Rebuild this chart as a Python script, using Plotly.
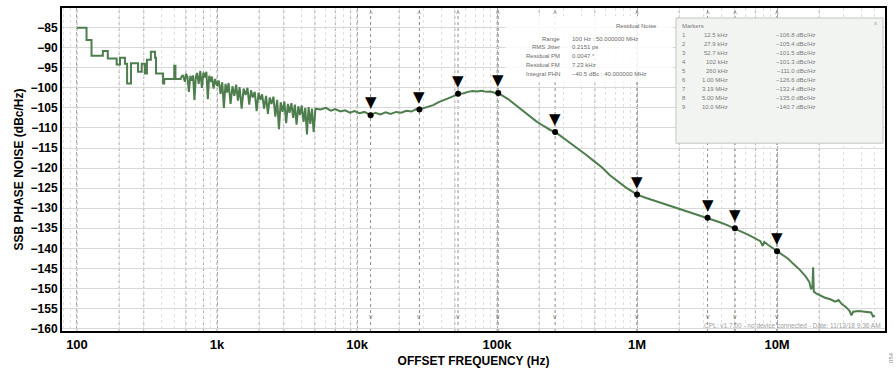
import numpy as np
import plotly.graph_objects as go

# ---- measured trace: low-offset region (FFT bins, drawn as steps) ----
step_freq = [100, 117, 127, 153, 166, 192, 203, 220, 228, 243, 273, 290, 306, 316,
             337, 361, 367, 412, 420, 495, 505, 550]
step_dbc = [-85.0, -88.1, -92.0, -90.8, -92.7, -94.2, -92.5, -94.0, -98.9, -93.9,
            -96.0, -94.0, -96.4, -93.0, -91.0, -92.5, -96.4, -98.9, -97.8, -94.5,
            -97.8, -97.5]

# ---- measured trace: 550 Hz .. 50 MHz ----
trace_freq = [550, 570, 590, 600, 615, 630, 645, 660, 675, 690, 705, 720, 740, 760, 780,
              800, 820, 840, 860, 880, 900, 920, 945, 970, 1000, 1030, 1060, 1090, 1120,
              1150, 1180, 1210, 1250, 1290, 1330, 1370, 1410, 1450, 1500, 1550, 1600,
              1650, 1700, 1750, 1800, 1860, 1920, 1980, 2040, 2100, 2170, 2240, 2310,
              2380, 2450, 2530, 2610, 2690, 2770, 2850, 2940, 3030, 3120, 3210, 3300,
              3400, 3500, 3600, 3700, 3810, 3920, 4030, 4150, 4270, 4390, 4510, 4640,
              4770, 4900, 5050,
              5500, 6000, 6500, 7000, 7600, 8200, 8900, 9600, 10400, 11300, 12500, 13500,
              14700, 16000, 17400, 19000, 20700, 22500, 24500, 26500, 27900, 30000, 32500,
              35000, 38000, 41000, 44500, 48000, 52700, 57000, 62000, 67000, 72000, 78000,
              84000, 90000, 96000, 102000, 110000, 120000, 135000, 150000, 170000, 190000,
              215000, 240000, 260000, 290000, 330000, 380000, 430000, 490000, 560000,
              640000, 730000, 830000, 920000, 1.0e6, 1.15e6, 1.3e6, 1.5e6, 1.7e6, 2.0e6,
              2.3e6, 2.65e6, 2.9e6, 3.19e6, 3.5e6, 3.9e6, 4.4e6, 5.0e6, 5.6e6, 6.3e6,
              7.0e6, 7.6e6, 7.9e6, 8.1e6, 8.6e6, 9.3e6, 10.0e6, 11.0e6, 12.0e6, 13.0e6,
              14.5e6, 16.0e6, 17.0e6, 17.5e6, 17.9e6, 18.1e6, 18.3e6, 19.0e6, 20.5e6,
              22.0e6, 24.0e6, 26.0e6, 27.5e6, 29.0e6, 31.0e6, 33.0e6, 34.0e6, 35.0e6,
              38.0e6, 41.0e6, 44.0e6, 47.0e6, 48.5e6, 50.0e6]
trace_dbc = [-97.5, -96.8, -98.5, -96.5, -97.2, -101.0, -97.0, -98.2, -96.9, -103.0,
             -97.5, -96.3, -99.0, -95.8, -100.0, -96.2, -97.4, -96.0, -102.8, -97.0,
             -98.5, -97.2, -100.2, -97.8, -99.5, -98.2, -101.5, -98.6, -105.0, -99.0,
             -101.2, -98.8, -104.0, -99.6, -102.0, -99.2, -103.2, -99.8, -105.2, -100.2,
             -101.8, -100.0, -104.2, -100.6, -102.4, -101.0, -105.8, -101.2, -103.0,
             -101.6, -105.2, -102.0, -106.5, -102.4, -104.0, -102.2, -107.2, -103.0,
             -110.3, -103.6, -106.0, -103.4, -108.8, -104.0, -106.2, -103.8, -107.5,
             -104.2, -109.2, -104.6, -106.8, -104.4, -108.5, -105.0, -111.6, -104.8,
             -109.0, -105.2, -111.0, -105.2,
             -105.4, -105.0, -105.7, -105.3, -105.9, -105.6, -106.2, -105.8, -106.3,
             -106.0, -106.8, -106.2, -106.6, -106.1, -106.5, -106.0, -106.2, -105.7,
             -105.9, -105.3, -105.4, -105.0, -104.6, -104.3, -103.6, -103.2, -102.6,
             -102.2, -101.5, -101.4, -101.0, -100.8, -100.9, -100.7, -101.0, -100.9,
             -101.2, -101.3, -102.0, -102.8, -104.2, -105.5, -107.0, -108.3, -109.5,
             -110.5, -111.0, -112.2, -113.6, -115.2, -116.6, -118.2, -119.8, -121.8,
             -123.4, -124.8, -125.8, -126.6, -127.4, -128.0, -128.8, -129.4, -130.1,
             -130.8, -131.5, -131.9, -132.4, -132.9, -133.5, -134.2, -135.0, -135.9,
             -136.7, -137.6, -138.2, -139.4, -138.4, -139.1, -139.9, -140.7, -141.6,
             -142.6, -143.8, -145.3, -147.0, -148.4, -150.2, -149.6, -144.7, -150.8,
             -151.2, -151.8, -152.3, -152.7, -153.3, -152.9, -153.9, -154.6, -155.6,
             -156.7, -155.8, -155.6, -155.7, -155.9, -156.0, -157.0, -156.8]

# ---- markers ----
marker_id = ["1", "2", "3", "4", "5", "6", "7", "8", "9"]
marker_freq = [12.5e3, 27.9e3, 52.7e3, 102e3, 260e3, 1.00e6, 3.19e6, 5.00e6, 10.0e6]
marker_dbc = [-106.8, -105.4, -101.5, -101.3, -111.0, -126.6, -132.4, -135.0, -140.7]
marker_freq_text = ["12.5 kHz", "27.9 kHz", "52.7 kHz", "102 kHz", "260 kHz",
                    "1.00 MHz", "3.19 MHz", "5.00 MHz", "10.0 MHz"]

# ---- residual noise summary ----
summary_labels = ["Range", "RMS Jitter", "Residual PM", "Residual FM", "Integral PHN"]
summary_values = ["100 Hz : 50.000000 MHz", "0.2151 ps", "0.0047 °", "7.23 kHz",
                  "\u221240.5 dBc : 40.000000 MHz"]

# ---- axes ----
y_ticks = list(range(-160, -84, 5))
y_tick_text = [f"\u2212{abs(v)}" for v in y_ticks]
x_ticks = [100, 1e3, 1e4, 1e5, 1e6, 1e7]
x_tick_text = ["100", "1k", "10k", "100k", "1M", "10M"]
dark_grid = [100, 200, 300, 600, 800, 1e3, 2e3, 3e3, 5e3, 7e3, 9e3, 1e4, 2e4, 5e4,
             1e5, 2e5, 5e5, 1e6, 2e6, 5e6, 7e6, 1e7, 2e7]

X_RANGE = [1.893, 7.771]
Y_RANGE = [-160.6, -80.1]

TRACE_COLOR = "#4e7d4e"
FONT = "Liberation Sans, Arial, sans-serif"

fig = go.Figure()

# darker dotted grid lines
for f in dark_grid:
    fig.add_shape(type="line", xref="x", yref="paper", x0=f, x1=f, y0=0, y1=1,
                  line=dict(color="#a8a8a8", width=1, dash="dot"), layer="below")

# marker reference lines
for f in marker_freq:
    fig.add_shape(type="line", xref="x", yref="paper", x0=f, x1=f, y0=0, y1=1,
                  line=dict(color="#8c8c8c", width=1, dash="dot"), layer="below")

fig.add_trace(go.Scatter(x=step_freq, y=step_dbc, mode="lines",
                         line=dict(color=TRACE_COLOR, width=2, shape="hv"),
                         hoverinfo="skip", showlegend=False))
fig.add_trace(go.Scatter(x=trace_freq, y=trace_dbc, mode="lines",
                         line=dict(color=TRACE_COLOR, width=2),
                         hoverinfo="skip", showlegend=False))
fig.add_trace(go.Scatter(x=marker_freq, y=marker_dbc, mode="markers",
                         marker=dict(color="black", size=6),
                         hoverinfo="skip", showlegend=False))

# marker flags (downward triangles above each marker point)
for f, v in zip(marker_freq, marker_dbc):
    fig.add_annotation(x=np.log10(f), y=v, xref="x", yref="y", text="\u25bc",
                       showarrow=False, yshift=13,
                       font=dict(family="DejaVu Sans", size=15, color="black"))
    fig.add_annotation(x=np.log10(f), y=0, xref="x", yref="paper", text="v",
                       showarrow=False, yanchor="bottom", yshift=9,
                       font=dict(family=FONT, size=7, color="#808080"))
    fig.add_annotation(x=np.log10(f), y=1, xref="x", yref="paper", text="^",
                       showarrow=False, yanchor="top", yshift=1,
                       font=dict(family=FONT, size=8, color="#808080"))

# residual noise summary block
fig.add_shape(type="rect", xref="paper", yref="paper", x0=0.539, x1=0.742, y0=0.77,
              y1=0.975, fillcolor="rgba(255,255,255,0.85)", line=dict(width=0))
fig.add_annotation(xref="paper", yref="paper", x=0.726, y=0.945, text="Residual Noise",
                   showarrow=False, xanchor="right", yanchor="middle",
                   font=dict(family=FONT, size=6, color="#6a6a6a"))
for i, (lab, val) in enumerate(zip(summary_labels, summary_values)):
    yy = 0.905 - i * 0.0272
    fig.add_annotation(xref="paper", yref="paper", x=0.607, y=yy, text=lab,
                       showarrow=False, xanchor="right", yanchor="middle",
                       font=dict(family=FONT, size=6, color="#6a6a6a"))
    fig.add_annotation(xref="paper", yref="paper", x=0.617, y=yy, text=val,
                       showarrow=False, xanchor="left", yanchor="middle",
                       font=dict(family=FONT, size=6, color="#6a6a6a"))

# marker table
fig.add_shape(type="rect", xref="paper", yref="paper", x0=0.746, x1=0.9976, y0=0.5815,
              y1=0.969, fillcolor="#f2f4f2", line=dict(color="#c4c4c4", width=1))
fig.add_annotation(xref="paper", yref="paper", x=0.751, y=0.945, text="Markers",
                   showarrow=False, xanchor="left", yanchor="middle",
                   font=dict(family=FONT, size=6, color="#7a7a7a"))
fig.add_annotation(xref="paper", yref="paper", x=0.989, y=0.955, text="x",
                   showarrow=False, xanchor="center", yanchor="middle",
                   font=dict(family=FONT, size=6, color="#9a9a9a"))
for i, (mid, ft, v) in enumerate(zip(marker_id, marker_freq_text, marker_dbc)):
    yy = 0.917 - i * 0.0281
    fig.add_annotation(xref="paper", yref="paper", x=0.751, y=yy, text=mid,
                       showarrow=False, xanchor="left", yanchor="middle",
                       font=dict(family=FONT, size=6, color="#7a7a7a"))
    fig.add_annotation(xref="paper", yref="paper", x=0.812, y=yy, text=ft,
                       showarrow=False, xanchor="right", yanchor="middle",
                       font=dict(family=FONT, size=6, color="#7a7a7a"))
    fig.add_annotation(xref="paper", yref="paper", x=0.918, y=yy,
                       text=f"\u2212{abs(v):.1f} dBc/Hz",
                       showarrow=False, xanchor="right", yanchor="middle",
                       font=dict(family=FONT, size=6, color="#7a7a7a"))

# status footer inside the plot
fig.add_annotation(xref="paper", yref="paper", x=0.998, y=0.0, yshift=0,
                   text="CPL: v1.7.00 - no device connected - Date: 11/13/18 9:36 AM",
                   showarrow=False, xanchor="right", yanchor="bottom",
                   font=dict(family=FONT, size=6.5, color="#a0a0a0"))

# figure number on the page edge
fig.add_annotation(xref="paper", yref="paper", x=1.0, y=-0.06, xshift=6,
                   text="054", textangle=-90, showarrow=False,
                   xanchor="center", yanchor="top",
                   font=dict(family=FONT, size=6, color="#8a8a8a"))

fig.update_xaxes(type="log", range=X_RANGE, tickvals=x_ticks, ticktext=x_tick_text,
                 showgrid=True, gridcolor="#a8a8a8", griddash="dot", gridwidth=1,
                 minor=dict(showgrid=True, gridcolor="#e0e0e0", dtick="D1"),
                 showline=True, mirror=True, linecolor="black", linewidth=2,
                 ticks="", zeroline=False,
                 tickfont=dict(family=FONT, size=13, color="black", weight="bold"),
                 title=dict(text="OFFSET FREQUENCY (Hz)", standoff=6,
                            font=dict(family=FONT, size=12, color="black", weight="bold")))
fig.update_yaxes(range=Y_RANGE, tickvals=y_ticks, ticktext=y_tick_text,
                 showgrid=True, gridcolor="#d8d8d8", gridwidth=1,
                 showline=True, mirror=True, linecolor="black", linewidth=2,
                 ticks="", zeroline=False,
                 tickfont=dict(family=FONT, size=12, color="black", weight="bold"),
                 title=dict(text="SSB PHASE NOISE (dBc/Hz)", standoff=4,
                            font=dict(family=FONT, size=12, color="black", weight="bold")))

fig.update_layout(width=896, height=372,
                  margin=dict(l=62, r=11, t=6, b=41),
                  paper_bgcolor="white", plot_bgcolor="white")

fig.write_html("out.html")
